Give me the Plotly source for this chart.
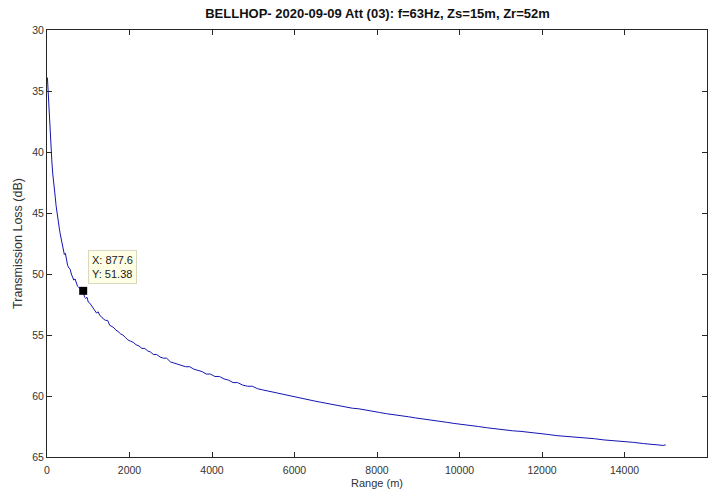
import plotly.graph_objects as go

# Transmission loss vs range (BELLHOP run, f=63 Hz, Zs=15 m, Zr=52 m)
range_m = [
    10, 20, 30, 40, 50, 60, 75, 90, 105, 120, 140, 160, 180, 200, 220, 240,
    260, 280, 300, 320, 345, 370, 395, 420, 445, 470, 500, 530, 560, 590,
    620, 650, 680, 710, 740, 770, 800, 840, 877.6, 910, 940, 970, 1000,
    1040, 1080, 1120, 1160, 1200, 1240, 1280, 1320, 1370, 1420, 1470, 1520,
    1570, 1620, 1670, 1720, 1780, 1840, 1900, 1960, 2020, 2090, 2160, 2230,
    2300, 2370, 2440, 2510, 2580, 2660, 2740, 2820, 2900, 2990, 3080, 3170,
    3260, 3360, 3460, 3560, 3660, 3760, 3860, 3960, 4070, 4180, 4290, 4400,
    4510, 4620, 4740, 4860, 4980, 5100, 5230, 5360, 5490, 5620, 5760, 5900,
    6040, 6180, 6320, 6470, 6620, 6770, 6920, 7080, 7240, 7400, 7560, 7720,
    7890, 8060, 8230, 8400, 8580, 8760, 8940, 9120, 9300, 9490, 9680, 9870,
    10060, 10260, 10460, 10660, 10860, 11070, 11280, 11490, 11700, 11920,
    12140, 12360, 12580, 12810, 13040, 13270, 13500, 13740, 13980, 14220,
    14460, 14700, 14940, 15000,
]
tl_db = [
    33.9, 34.6, 35.6, 36.3, 36.0, 36.8, 38.0, 39.2, 40.0, 40.9, 41.8, 42.3,
    42.9, 43.7, 44.4, 45.0, 45.2, 45.7, 46.3, 46.7, 47.1, 47.5, 47.9, 48.4,
    48.3, 48.8, 49.3, 49.5, 49.6, 50.0, 50.2, 50.5, 50.4, 50.8, 51.0, 51.1,
    51.2, 51.3, 51.38, 51.9, 52.0, 51.9, 52.3, 52.4, 52.6, 52.7, 52.9, 53.2,
    53.1, 53.4, 53.5, 53.7, 53.8, 53.8, 54.2, 54.3, 54.4, 54.6, 54.7, 54.9,
    55.0, 55.2, 55.4, 55.5, 55.6, 55.8, 55.9, 56.1, 56.1, 56.3, 56.4, 56.6,
    56.6, 56.8, 56.9, 56.9, 57.2, 57.3, 57.4, 57.5, 57.6, 57.6, 57.8, 57.9,
    58.0, 58.2, 58.2, 58.4, 58.4, 58.6, 58.7, 58.9, 58.9, 59.1, 59.2, 59.2,
    59.4, 59.5, 59.6, 59.7, 59.8, 59.9, 60.0, 60.1, 60.2, 60.3, 60.4, 60.5,
    60.6, 60.7, 60.8, 60.9, 61.0, 61.05, 61.15, 61.3, 61.35, 61.45, 61.55,
    61.6, 61.7, 61.8, 61.9, 62.0, 62.05, 62.15, 62.25, 62.35, 62.45, 62.5,
    62.6, 62.7, 62.75, 62.85, 62.9, 63.0, 63.1, 63.15, 63.25, 63.3, 63.4,
    63.45, 63.5, 63.6, 63.65, 63.75, 63.8, 63.9, 63.95, 64.05, 64.0,
]

# Data-tip point
tip_x = 877.6
tip_y = 51.38

x_ticks = [0, 2000, 4000, 6000, 8000, 10000, 12000, 14000, 16000]
y_ticks = [30, 35, 40, 45, 50, 55, 60, 65]

axis_color = "#262626"
label_color = "#333333"
font_family = "Liberation Sans, Arial, sans-serif"

fig = go.Figure()
fig.add_trace(go.Scatter(
    x=range_m, y=tl_db, mode="lines",
    line=dict(color="#1414b4", width=1),
    showlegend=False, hoverinfo="skip",
))
fig.add_trace(go.Scatter(
    x=[tip_x], y=[tip_y], mode="markers",
    marker=dict(symbol="square", size=8, color="black"),
    showlegend=False, hoverinfo="skip",
))

fig.add_annotation(
    x=tip_x, y=tip_y, xref="x", yref="y",
    text=f"X: {tip_x}<br>Y: {tip_y}",
    showarrow=False, xanchor="left", yanchor="bottom",
    xshift=5, yshift=7, align="left",
    bgcolor="#ffffe6", bordercolor="#d8d8c0", borderwidth=1, borderpad=3,
    font=dict(family=font_family, size=11, color="#1a1a1a"),
)

fig.update_layout(
    width=721, height=491,
    margin=dict(l=47, r=14, t=30, b=34),
    paper_bgcolor="white", plot_bgcolor="white",
    font=dict(family=font_family, size=10.5, color=label_color),
    title=dict(
        text="<b>BELLHOP- 2020-09-09 Att (03): f=63Hz, Zs=15m, Zr=52m</b>",
        x=(47.5 + 707.5) / 2 / 721, xanchor="center",
        y=1 - 13 / 491, yanchor="middle",
        font=dict(family=font_family, size=13, color="#111111"),
    ),
)
fig.update_xaxes(
    range=[0, 16000], tickvals=x_ticks, ticktext=[str(v) for v in x_ticks],
    showgrid=False, zeroline=False, automargin=False,
    showline=True, linecolor=axis_color, linewidth=1, mirror="ticks",
    ticks="inside", ticklen=5, tickcolor=axis_color, tickwidth=1,
    ticklabelstandoff=3,
    title=dict(text="Range (m)", standoff=4,
               font=dict(family=font_family, size=11, color=label_color)),
)
fig.update_yaxes(
    range=[65, 30], tickvals=y_ticks, ticktext=[str(v) for v in y_ticks],
    showgrid=False, zeroline=False, automargin=False,
    showline=True, linecolor=axis_color, linewidth=1, mirror="ticks",
    ticks="inside", ticklen=5, tickcolor=axis_color, tickwidth=1,
    title=dict(text="Transmission Loss (dB)", standoff=6,
               font=dict(family=font_family, size=12.5, color=label_color)),
)

fig.write_html("out.html")
